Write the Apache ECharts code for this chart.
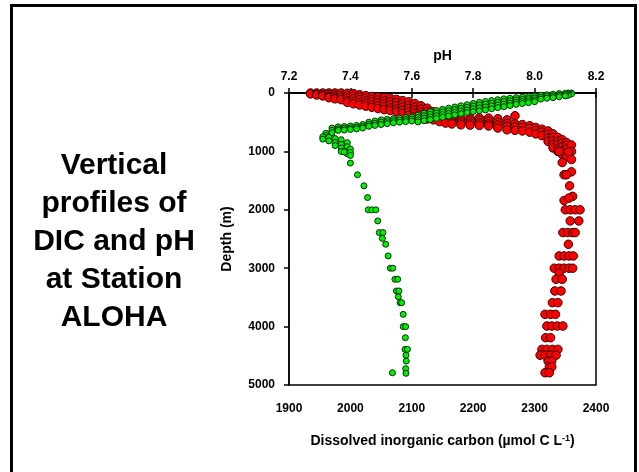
<!DOCTYPE html>
<html>
<head>
<meta charset="utf-8">
<script src="https://cdn.jsdelivr.net/npm/echarts@6/dist/echarts.min.js"></script>
<style>
  html, body { margin: 0; padding: 0; background: #fff; }
  #chart { width: 639px; height: 472px; }
</style>
</head>
<body>
<div id="chart"></div>
<script>
// DIC (umol C/L) vs depth (m), red markers, bottom axis
const dicPoints = [
  [1935, 0], [1935, 15], [1945, 0], [1945, 20], [1945, 35], [1955, 0], [1955, 25], [1955, 50],
  [1965, 0], [1965, 30], [1965, 60], [1965, 80], [1975, 0], [1975, 35], [1975, 70], [1975, 100],
  [1985, 0], [1985, 40], [1985, 80], [1985, 115], [1995, 5], [1995, 45], [1995, 90], [1995, 130], [1995, 160],
  [2005, 10], [2005, 55], [2005, 100], [2005, 145], [2005, 185], [2015, 30], [2015, 70], [2015, 115], [2015, 160], [2015, 205],
  [2025, 45], [2025, 90], [2025, 135], [2025, 180], [2025, 225], [2035, 60], [2035, 105], [2035, 150], [2035, 200], [2035, 245],
  [2045, 70], [2045, 120], [2045, 170], [2045, 220], [2045, 265], [2055, 80], [2055, 135], [2055, 185], [2055, 235], [2055, 285],
  [2065, 90], [2065, 150], [2065, 200], [2065, 255], [2065, 300], [2075, 110], [2075, 165], [2075, 220], [2075, 275], [2075, 320],
  [2085, 130], [2085, 185], [2085, 240], [2085, 295], [2085, 345], [2095, 150], [2095, 210], [2095, 265], [2095, 320], [2095, 380],
  [2105, 180], [2105, 240], [2105, 290], [2105, 345], [2105, 400], [2115, 220], [2115, 275], [2115, 330], [2115, 380], [2115, 425],
  [2125, 260], [2125, 315], [2125, 365], [2125, 410], [2125, 445], [2135, 320], [2135, 370], [2135, 420], [2135, 460],
  [2145, 370], [2145, 410], [2145, 450], [2145, 490], [2155, 400], [2155, 440], [2155, 480], [2155, 515],
  [2165, 420], [2165, 460], [2165, 500], [2165, 530], [2180, 430], [2180, 470], [2180, 510], [2180, 545],
  [2195, 430], [2195, 470], [2195, 510], [2195, 550], [2210, 425], [2210, 470], [2210, 515], [2210, 555],
  [2225, 430], [2225, 480], [2225, 530], [2225, 565], [2240, 440], [2240, 500], [2240, 550], [2240, 600],
  [2255, 460], [2255, 520], [2255, 570], [2255, 630], [2268, 390], [2268, 530], [2268, 580], [2268, 640],
  [2280, 540], [2280, 590], [2280, 650], [2292, 560], [2292, 610], [2292, 670], [2302, 590], [2302, 640], [2302, 700],
  [2312, 620], [2312, 670], [2312, 730], [2322, 650], [2322, 710], [2322, 770], [2322, 830],
  [2330, 700], [2330, 760], [2330, 820], [2330, 880], [2330, 940], [2338, 760], [2338, 820], [2338, 880], [2338, 950], [2338, 1000],
  [2345, 800], [2345, 860], [2345, 920], [2345, 1000], [2345, 1050], [2352, 850], [2352, 900], [2352, 960], [2352, 1020], [2352, 1090],
  [2360, 890], [2360, 1000], [2340, 1000], [2355, 1010], [2345, 1190], [2360, 1140],
  [2348, 1400], [2360, 1350], [2352, 1400], [2357, 1590], [2362, 1770], [2348, 1840], [2356, 1800],
  [2350, 2000], [2358, 2000], [2366, 2000], [2374, 2000], [2358, 2190], [2372, 2190],
  [2346, 2390], [2354, 2390], [2362, 2390], [2366, 2390], [2355, 2590],
  [2340, 2790], [2348, 2790], [2356, 2790], [2363, 2790],
  [2332, 3000], [2340, 3000], [2348, 3000], [2356, 3000], [2362, 3000], [2340, 3080],
  [2335, 3190], [2345, 3190], [2333, 3390], [2343, 3390], [2329, 3590], [2338, 3590],
  [2317, 3790], [2326, 3790], [2334, 3790], [2320, 3990], [2328, 3990], [2337, 3990], [2346, 3990],
  [2318, 4190], [2326, 4190], [2312, 4390], [2320, 4390], [2329, 4390], [2338, 4390],
  [2309, 4490], [2317, 4490], [2326, 4490], [2335, 4490], [2322, 4590], [2328, 4590],
  [2324, 4690], [2328, 4690], [2317, 4790], [2324, 4790]
];

// pH vs depth (m), green markers, top axis
const phPoints = [
  [8.12, 0], [8.12, 15], [8.11, 0], [8.11, 25], [8.11, 40], [8.10, 5], [8.10, 30], [8.10, 50],
  [8.08, 10], [8.08, 40], [8.08, 65], [8.06, 20], [8.06, 50], [8.06, 80], [8.04, 30], [8.04, 60], [8.04, 90],
  [8.02, 40], [8.02, 75], [8.02, 105], [8.00, 50], [8.00, 85], [8.00, 120], [8.00, 150],
  [7.98, 60], [7.98, 95], [7.98, 130], [7.98, 165], [7.96, 70], [7.96, 110], [7.96, 145], [7.96, 180],
  [7.94, 80], [7.94, 120], [7.94, 160], [7.94, 195], [7.92, 90], [7.92, 135], [7.92, 175], [7.92, 215],
  [7.90, 100], [7.90, 145], [7.90, 190], [7.90, 235], [7.88, 115], [7.88, 160], [7.88, 205], [7.88, 250],
  [7.86, 130], [7.86, 175], [7.86, 220], [7.86, 270], [7.84, 145], [7.84, 190], [7.84, 240], [7.84, 290],
  [7.82, 160], [7.82, 205], [7.82, 255], [7.82, 305], [7.80, 180], [7.80, 225], [7.80, 270], [7.80, 320],
  [7.78, 200], [7.78, 245], [7.78, 290], [7.78, 335], [7.76, 220], [7.76, 265], [7.76, 310], [7.76, 355],
  [7.74, 240], [7.74, 285], [7.74, 330], [7.74, 375], [7.72, 260], [7.72, 305], [7.72, 350], [7.72, 395],
  [7.70, 280], [7.70, 325], [7.70, 370], [7.70, 415], [7.68, 300], [7.68, 345], [7.68, 390], [7.68, 435],
  [7.66, 320], [7.66, 365], [7.66, 410], [7.66, 455], [7.64, 345], [7.64, 390], [7.64, 430], [7.64, 475],
  [7.62, 380], [7.62, 420], [7.62, 460], [7.62, 495], [7.60, 410], [7.60, 445], [7.60, 480],
  [7.58, 420], [7.58, 455], [7.58, 490], [7.56, 430], [7.56, 465], [7.56, 500], [7.54, 440], [7.54, 475], [7.54, 510],
  [7.52, 450], [7.52, 490], [7.52, 525], [7.50, 460], [7.50, 500], [7.50, 540], [7.48, 480], [7.48, 520], [7.48, 555],
  [7.46, 500], [7.46, 540], [7.46, 570], [7.44, 540], [7.44, 575], [7.44, 600], [7.42, 555], [7.42, 590], [7.42, 615],
  [7.40, 565], [7.40, 600], [7.40, 625], [7.38, 575], [7.38, 605], [7.38, 635], [7.36, 580], [7.36, 615], [7.36, 640],
  [7.34, 600], [7.34, 640], [7.34, 680], [7.32, 690], [7.32, 730], [7.32, 770], [7.31, 750], [7.31, 790],
  [7.33, 760], [7.33, 820], [7.35, 780], [7.35, 850], [7.35, 900], [7.37, 800], [7.37, 880], [7.37, 940], [7.37, 1000],
  [7.39, 850], [7.39, 920], [7.39, 1000], [7.39, 1040], [7.40, 960], [7.40, 1020], [7.40, 1070], [7.38, 1010],
  [7.400, 1200], [7.423, 1400], [7.444, 1590], [7.456, 1790], [7.458, 2000], [7.470, 2000], [7.483, 2000],
  [7.489, 2190], [7.494, 2390], [7.506, 2390], [7.504, 2490], [7.515, 2590], [7.523, 2790],
  [7.530, 3000], [7.538, 3000], [7.545, 3190], [7.554, 3190], [7.550, 3390], [7.558, 3390], [7.556, 3490],
  [7.562, 3590], [7.567, 3590], [7.572, 3790], [7.572, 4000], [7.580, 4000], [7.579, 4190],
  [7.578, 4390], [7.586, 4390], [7.581, 4490], [7.582, 4590], [7.580, 4720], [7.537, 4790], [7.581, 4800]
];

const font = 'Liberation Sans, Arial, sans-serif';
const chart = echarts.init(document.getElementById('chart'));

const axisCommon = {
  axisLine: { show: true, lineStyle: { color: '#000', width: 1.5 } },
  axisTick: { show: true, inside: false, length: 5, lineStyle: { color: '#000', width: 1.5 } },
  splitLine: { show: false },
  nameTextStyle: { color: '#000', fontFamily: font, fontWeight: 'bold', fontSize: 14 }
};

const plainNum = function (v) { return String(v); };

chart.setOption({
  animation: false,
  backgroundColor: '#fff',
  grid: {
    left: 289, right: 43, top: 93, bottom: 87,
    show: true, borderColor: '#000', borderWidth: 1.5
  },
  xAxis: [
    Object.assign({}, axisCommon, {
      type: 'value', position: 'bottom', min: 1900, max: 2400, interval: 100,
      axisLabel: { color: '#000', fontFamily: font, fontWeight: 'bold', fontSize: 12, margin: 18, formatter: plainNum },
      name: 'Dissolved inorganic carbon (µmol C L{sup|-1})',
      nameLocation: 'middle', nameGap: 49,
      nameTextStyle: {
        color: '#000', fontFamily: font, fontWeight: 'bold', fontSize: 14,
        rich: { sup: { fontSize: 9, fontWeight: 'bold', fontFamily: font, color: '#000', verticalAlign: 'top', lineHeight: 14 } }
      }
    }),
    Object.assign({}, axisCommon, {
      type: 'value', position: 'top', min: 7.2, max: 8.2, interval: 0.2,
      axisLabel: { color: '#000', fontFamily: font, fontWeight: 'bold', fontSize: 12, margin: 10,
        formatter: function (v) { return v.toFixed(1); } },
      name: 'pH', nameLocation: 'middle', nameGap: 30
    })
  ],
  yAxis: Object.assign({}, axisCommon, {
    type: 'value', inverse: true, min: 0, max: 5000, interval: 1000,
    axisLabel: { color: '#000', fontFamily: font, fontWeight: 'bold', fontSize: 12, margin: 14, formatter: plainNum },
    name: 'Depth (m)', nameLocation: 'middle', nameGap: 55
  }),
  graphic: [
    {
      type: 'rect', shape: { x: 11.5, y: 5.5, width: 624, height: 500 },
      style: { fill: 'none', stroke: '#000', lineWidth: 3 }, z: 100
    },
    {
      type: 'text', x: 114, y: 242,
      style: {
        text: 'Vertical\nprofiles of\nDIC and pH\nat Station\nALOHA',
        font: 'bold 30px ' + font, fill: '#000', align: 'center', verticalAlign: 'middle', lineHeight: 38
      }
    }
  ],
  series: [
    {
      name: 'DIC', type: 'scatter', xAxisIndex: 0, yAxisIndex: 0,
      data: dicPoints, symbolSize: 8.5,
      itemStyle: { color: '#ff0000', borderColor: '#3a0000', borderWidth: 1, opacity: 1 }
    },
    {
      name: 'pH', type: 'scatter', xAxisIndex: 1, yAxisIndex: 0,
      data: phPoints, symbolSize: 6,
      itemStyle: { color: '#00ee00', borderColor: '#0a300a', borderWidth: 1, opacity: 1 }
    }
  ]
});
</script>
</body>
</html>
